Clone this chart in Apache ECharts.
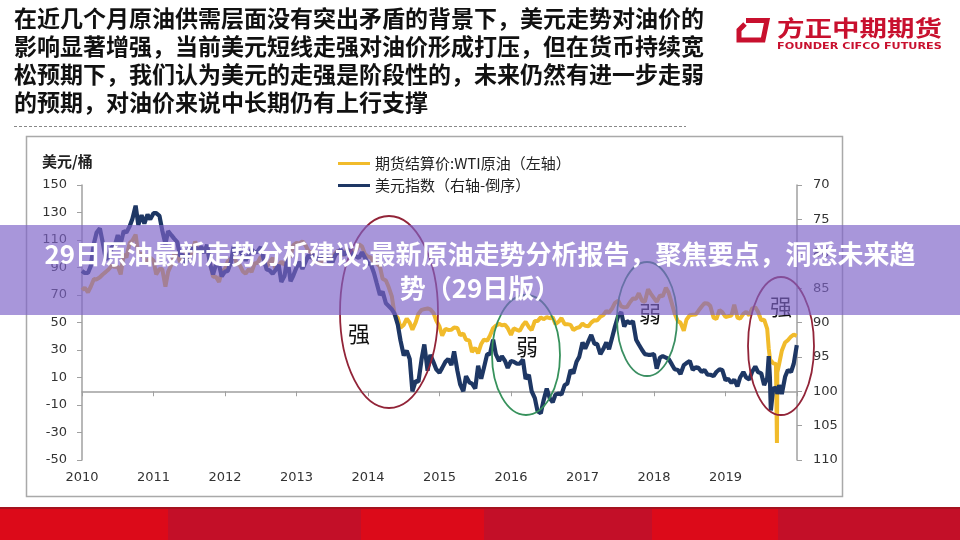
<!DOCTYPE html>
<html><head><meta charset="utf-8">
<script src="https://cdn.jsdelivr.net/npm/echarts@6/dist/echarts.min.js"></script>
<style>html,body{margin:0;padding:0;background:#fff}#c{width:960px;height:540px}</style>
</head><body><div id="c"></div>
<script>
// ---- data: semi-monthly (1st, 15th) samples ----
const xTickLabels = ['2010','2011','2012','2013','2014','2015','2016','2017','2018','2019'];
// WTI settlement price (left axis, USD/bbl)
const wti2010 = [73.5,75.4,72.0,76.0,81.6,81.3,82.9,84.9,86.8,88.6];
const wti2011 = [91.4,90.5,90.8,85.0,99.6,97.2,107.9,109.7,113.9,99.7,100.3,95.8,94.9,97.2,94.9,85.0,88.9,88.9,76.0,86.8,92.2,99.4,100.2,93.9];
const wti2012 = [100.0,98.7,97.6,101.8,108.8,105.1,103.0,103.0,105.2,94.0,83.2,83.3,79.5,87.1,88.9,94.3,96.5,99.0,92.5,91.9,87.1,85.5,88.9,86.7];
const wti2013 = [93.1,93.3,97.8,95.9,90.7,93.5,97.1,88.7,91.0,94.3,91.9,97.9,97.9,106.3,107.9,107.3,109.0,106.6,102.0,101.2,94.6,93.8,92.7,96.6];
const wti2014 = [98.4,94.2,97.5,100.3,102.6,98.9,99.6,103.8,99.4,101.5,102.7,106.9,105.4,100.0,97.9,97.4,93.9,92.9,90.7,81.8,80.5,75.8,69.0,55.9];
const wti2015 = [53.3,46.3,48.2,52.8,49.8,44.8,50.1,56.4,59.2,59.7,60.2,59.5,56.9,51.4,47.1,40.5,45.4,44.6,44.7,46.4,46.1,40.7,41.9,37.4];
const wti2016 = [37.0,28.5,31.6,27.5,34.4,37.5,36.8,40.4,45.9,47.7,49.0,48.0,48.3,45.9,41.0,45.7,44.7,43.9,48.2,50.4,46.7,44.5,51.1,51.0];
const wti2017 = [53.7,52.4,53.9,53.1,53.8,48.9,50.6,53.2,48.8,48.8,48.3,44.5,46.0,46.5,49.2,47.6,47.3,49.9,51.7,51.5,54.3,55.3,58.4,57.3];
const wti2018 = [60.4,64.3,65.8,61.7,61.0,61.2,64.9,67.4,67.3,71.3,65.8,65.1,74.2,71.0,67.7,65.0,69.8,69.0,75.3,71.8,63.7,56.5,50.9,49.9];
const wti2019 = [44.0,52.1,55.3,55.6,55.8,58.5,61.6,64.0,63.9,62.0,53.5,52.5,59.1,57.6,54.0,54.5,55.1,62.9,53.6,52.8,56.2,57.7,55.2,60.1];
// US dollar index (right axis, inverted)
const usd2010 = [82.5,82.8,82.8,81.8,78.5,76.9,76.3,78.3,80.8,80.4];
const usd2011 = [79.0,79.0,77.3,78.5,76.7,76.9,76.0,74.9,73.0,75.8,74.4,75.6,74.3,75.0,74.1,74.1,74.5,76.6,78.6,76.7,77.3,77.8,78.3,80.3];
const usd2012 = [80.2,81.4,79.0,79.5,78.9,79.8,78.9,79.9,78.7,81.4,83.0,81.6,81.6,83.3,82.6,82.5,81.2,78.9,79.9,79.6,80.2,81.0,80.1,79.4];
const usd2013 = [79.8,79.7,79.0,80.8,82.3,82.4,82.9,82.4,81.6,84.1,83.2,80.6,84.0,83.2,82.0,81.2,82.2,81.3,80.2,80.6,80.2,80.8,80.7,80.0];
const usd2014 = [80.2,81.2,81.3,80.2,79.7,79.4,80.2,79.6,79.5,80.2,80.4,80.6,79.8,80.5,81.4,81.5,82.8,84.3,86.0,85.5,87.2,87.6,88.1,88.7];
const usd2015 = [90.3,92.6,94.8,94.1,95.3,100.0,98.5,98.6,95.3,93.2,97.0,94.7,95.8,96.8,97.3,96.6,95.7,95.3,96.2,94.2,97.0,99.0,100.0,97.8];
const usd2016 = [98.7,98.9,99.6,96.3,98.2,96.6,94.6,94.6,92.5,94.6,95.6,94.9,95.6,96.6,95.6,95.7,96.0,96.0,95.4,98.2,97.6,100.0,101.0,102.9];
const usd2017 = [103.2,101.4,99.6,101.0,101.6,100.5,100.3,100.5,99.1,98.9,96.9,97.4,95.7,95.0,92.9,93.8,92.7,91.8,93.1,93.1,94.6,93.9,92.9,93.9];
const usd2018 = [92.1,90.6,89.0,88.5,90.6,89.8,90.1,89.8,92.5,93.2,94.0,94.6,94.7,94.7,94.6,96.7,95.1,94.9,95.1,95.3,96.1,96.8,96.9,97.5];
const usd2019 = [96.2,95.9,95.6,96.9,96.5,96.6,97.2,96.9,97.6,97.6,97.8,97.2,96.8,96.9,98.4,98.2,98.8,98.3,99.3,98.0,97.2,98.0,98.3,97.2];
// 2020 with explicit dates
const dates2020 = ['2020-01-01','2020-01-15','2020-02-01','2020-02-15','2020-03-01','2020-03-09','2020-03-15','2020-03-18','2020-03-20','2020-04-01','2020-04-15','2020-04-20','2020-04-22','2020-05-01','2020-05-15','2020-06-01','2020-06-15','2020-07-01','2020-07-15','2020-07-31'];
const wti2020 = [61.1,57.8,51.6,52.1,45.3,31.1,31.7,20.4,22.4,20.3,19.9,-37.6,13.8,19.8,29.4,35.4,37.1,39.8,41.2,40.3];
const usd2020 = [96.4,97.2,97.4,99.1,98.1,94.9,98.0,101.0,102.8,99.6,99.5,99.9,100.4,99.1,100.4,97.9,96.9,97.2,96.0,93.3];

const wtiYears = [wti2010,wti2011,wti2012,wti2013,wti2014,wti2015,wti2016,wti2017,wti2018,wti2019];
const usdYears = [usd2010,usd2011,usd2012,usd2013,usd2014,usd2015,usd2016,usd2017,usd2018,usd2019];

function monthPos(s){const p=s.split('-').map(Number);const dim=new Date(p[0],p[1],0).getDate();return (p[0]-2010)*12+(p[1]-8)+(p[2]-1)/dim;}
const wtiData=[], usdData=[];
for(let yi=0; yi<10; yi++){
  const y=2010+yi, m0 = yi===0?8:1; let k=0;
  for(let m=m0;m<=12;m++){ for(const d of [1,15]){
    const ds=y+'-'+String(m).padStart(2,'0')+'-'+String(d).padStart(2,'0');
    wtiData.push([monthPos(ds), wtiYears[yi][k]]); usdData.push([monthPos(ds), usdYears[yi][k]]); k++;
  }}
}
dates2020.forEach((ds,i)=>{wtiData.push([monthPos(ds),wti2020[i]]); usdData.push([monthPos(ds),usd2020[i]]);});

const chart = echarts.init(document.getElementById('c'), null, {renderer:'canvas'});
const axisFont = {fontFamily:'DejaVu Sans', fontSize:13, color:'#333'};
const cjk = 'Noto Sans CJK SC';
const topLines = ['在近几个月原油供需层面没有突出矛盾的背景下，美元走势对油价的',
  '影响显著增强，当前美元短线走强对油价形成打压，但在货币持续宽',
  '松预期下，我们认为美元的走强是阶段性的，未来仍然有进一步走弱',
  '的预期，对油价来说中长期仍有上行支撑'];
const graphics = [];
// frame
graphics.push({type:'rect', z:0, shape:{x:26.5,y:136.5,width:816,height:360}, style:{fill:'none', stroke:'#a9a9a9', lineWidth:1.5}});
// bottom red bar
const barBlocks=[[0,168,'#dc0a19'],[168,361,'#c30f28'],[361,484,'#dc0a19'],[484,652,'#c30f28'],[652,778,'#dc0a19'],[778,960,'#c30f28']];
barBlocks.forEach(b=>graphics.push({type:'rect', z:0, shape:{x:b[0],y:508,width:b[1]-b[0],height:32}, style:{fill:b[2]}}));
graphics.push({type:'rect', z:0, shape:{x:0,y:507,width:960,height:2}, style:{fill:'#a5121f'}});
// top text
topLines.forEach((t,i)=>graphics.push({type:'text', z:5, style:{text:t, x:14, y:18.5+28*i, textVerticalAlign:'middle', fontFamily:cjk, fontWeight:'bold', fontSize:23, fill:'#111'}}));
graphics.push({type:'line', z:5, shape:{x1:14,y1:126.5,x2:686,y2:126.5}, style:{stroke:'#888', lineWidth:1, lineDash:[3,2]}});
// logo
graphics.push({type:'polyline', z:5, shape:{points:[[746,20.5],[767,20.5],[763,40],[739,40],[739,30],[745,24]]}, style:{stroke:'#c8102e', lineWidth:5, fill:'none', lineJoin:'miter'}});
graphics.push({type:'text', z:5, x:777, y:27.5, scaleX:1.25, style:{text:'方正中期期货', x:0, y:0, textVerticalAlign:'middle', fontFamily:cjk, fontWeight:'bold', fontSize:22, fill:'#c8102e'}});
graphics.push({type:'text', z:5, x:777, y:47, scaleX:1.18, style:{text:'FOUNDER CIFCO FUTURES', x:0, y:0, textVerticalAlign:'middle', fontFamily:'DejaVu Sans', fontWeight:'bold', fontSize:9.5, fill:'#c8102e'}});
// unit label
graphics.push({type:'text', z:5, style:{text:'美元/桶', x:42, y:161, textVerticalAlign:'middle', fontFamily:cjk, fontWeight:'bold', fontSize:15, fill:'#222'}});
// annotation ellipses
const ells=[[389,312,49,96,'#922438'],[526,355,34,60,'#37925c'],[647,319,30,57,'#3b8f62'],[781,346,33,69,'#922438']];
ells.forEach(e=>graphics.push({type:'ellipse', z:10, shape:{cx:e[0],cy:e[1],rx:e[2],ry:e[3]}, style:{fill:'none', stroke:e[4], lineWidth:1.8}}));
const anns=[['强',359,334],['弱',527,347],['弱',650,314],['强',781,307]];
anns.forEach(a=>graphics.push({type:'text', z:10, style:{text:a[0], x:a[1], y:a[2], textAlign:'center', textVerticalAlign:'middle', fontFamily:cjk, fontSize:22, fill:'#111'}}));
// purple overlay banner with title
graphics.push({type:'rect', z:20, shape:{x:0,y:225,width:960,height:90}, style:{fill:'rgba(125,98,200,0.67)'}});
graphics.push({type:'text', z:21, style:{text:'29日原油最新走势分析建议,最新原油走势分析报告，聚焦要点，洞悉未来趋', x:480, y:254, textAlign:'center', textVerticalAlign:'middle', fontFamily:cjk, fontWeight:'bold', fontSize:26, fill:'#fff'}});
graphics.push({type:'text', z:21, style:{text:'势（29日版）', x:480, y:288, textAlign:'center', textVerticalAlign:'middle', fontFamily:cjk, fontWeight:'bold', fontSize:26, fill:'#fff'}});

chart.setOption({
  animation:false,
  backgroundColor:'#fff',
  grid:{left:82, right:163, top:185, bottom:80},
  legend:{orient:'vertical', left:333, top:151, itemGap:7, itemWidth:32, itemHeight:3, icon:'rect',
    textStyle:{fontFamily:cjk, fontSize:15, color:'#222'},
    data:['期货结算价:WTI原油（左轴）','美元指数（右轴-倒序）']},
  xAxis:[
    {type:'value', min:0, max:120, interval:12, position:'bottom',
     axisLine:{show:false, onZero:false}, axisTick:{show:false}, splitLine:{show:false},
     axisLabel:Object.assign({margin:11, formatter:v=>{const i=Math.round(v/12);return i<xTickLabels.length?xTickLabels[i]:'';}}, axisFont)},
    {type:'value', min:0, max:120, interval:12, position:'bottom',
     axisLine:{show:true, onZero:true, onZeroAxisIndex:0, lineStyle:{color:'#a0a0a0', width:1.5}},
     axisTick:{show:true, length:5, lineStyle:{color:'#a0a0a0'}}, axisLabel:{show:false}, splitLine:{show:false}}
  ],
  yAxis:[
    {type:'value', min:-50, max:150, interval:20, position:'left',
     axisLine:{show:true, onZero:false, lineStyle:{color:'#a0a0a0', width:1.5}},
     axisTick:{show:true, length:5, lineStyle:{color:'#a0a0a0'}}, splitLine:{show:false},
     axisLabel:Object.assign({margin:15}, axisFont)},
    {type:'value', min:70, max:110, interval:5, inverse:true, position:'right',
     axisLine:{show:true, onZero:false, lineStyle:{color:'#a0a0a0', width:1.5}},
     axisTick:{show:true, length:5, lineStyle:{color:'#a0a0a0'}}, splitLine:{show:false},
     axisLabel:Object.assign({margin:16}, axisFont)}
  ],
  series:[
    {name:'期货结算价:WTI原油（左轴）', type:'line', xAxisIndex:0, yAxisIndex:0, data:wtiData, showSymbol:false,
     lineStyle:{color:'#f1bb2b', width:4}, itemStyle:{color:'#f1bb2b'}},
    {name:'美元指数（右轴-倒序）', type:'line', xAxisIndex:0, yAxisIndex:1, data:usdData, showSymbol:false,
     lineStyle:{color:'#1e3764', width:4.2}, itemStyle:{color:'#1e3764'}}
  ],
  graphic:{elements:graphics}
});
</script></body></html>
